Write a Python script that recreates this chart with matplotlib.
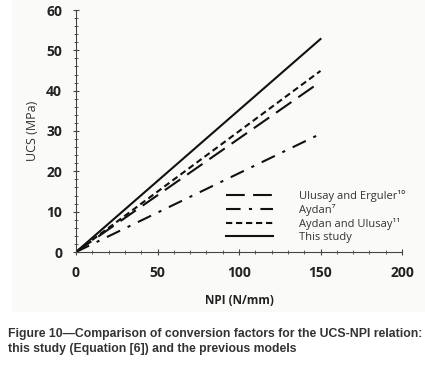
import matplotlib.pyplot as plt
from matplotlib.patches import Rectangle
from matplotlib.ticker import MultipleLocator

plt.rcParams["font.family"] = ["Open Sans", "DejaVu Sans"]

# NPI range and end values (UCS at NPI = 150)
npi = [0, 150]
ulusay_erguler = [0, 42.2]
aydan = [0, 29.3]
aydan_ulusay = [0, 44.9]
this_study = [0, 52.8]

labels = ["Ulusay and Erguler\u00b9\u2070", "Aydan\u2077",
          "Aydan and Ulusay\u00b9\u00b9", "This study"]

fig = plt.figure(figsize=(4.25, 3.72), dpi=100)
fig.patches.append(Rectangle((12 / 425, 1 - 312 / 372), 1, 312 / 372,
                             transform=fig.transFigure, facecolor="#fafaf8",
                             edgecolor="none", zorder=-10))

ax = fig.add_axes([76 / 425, 1 - 252 / 372, 326 / 425, 242 / 372])
ax.set_facecolor("none")

ax.plot(npi, ulusay_erguler, color="#111111", lw=1.5, dashes=(9, 4), label=labels[0])
ax.plot(npi, aydan, color="#111111", lw=1.5, dashes=(7, 4, 1.5, 4), label=labels[1])
ax.plot(npi, aydan_ulusay, color="#111111", lw=1.5, dashes=(3, 1.8), label=labels[2])
ax.plot(npi, this_study, color="#111111", lw=1.5, label=labels[3])

ax.set_xlim(0, 200)
ax.set_ylim(0, 60)
ax.xaxis.set_major_locator(MultipleLocator(50))
ax.xaxis.set_minor_locator(MultipleLocator(10))
ax.yaxis.set_major_locator(MultipleLocator(10))
ax.yaxis.set_minor_locator(MultipleLocator(2))
for s in ["top", "right"]:
    ax.spines[s].set_visible(False)
for s in ["left", "bottom"]:
    ax.spines[s].set_color("#444444")
ax.tick_params(which="major", length=4, color="#444444", direction="inout", pad=8)
ax.tick_params(which="minor", length=3, color="#444444", direction="inout")
for lab in ax.get_xticklabels() + ax.get_yticklabels():
    lab.set_fontweight("bold")
    lab.set_fontsize(10)
    lab.set_color("#222222")

ax.set_xlabel("NPI (N/mm)", fontsize=8.5, fontweight="bold", color="#222222", labelpad=10)
ax.set_ylabel("UCS (MPa)", fontsize=9, color="#333333", labelpad=5)

leg = ax.legend(loc="upper left", bbox_to_anchor=((226 - 76) / 326, (252 - 190) / 242),
                borderaxespad=0, borderpad=0, frameon=False,
                fontsize=8, handlelength=4.2, handletextpad=2.4, labelspacing=0.18,
                labelcolor="#333333")

cap = dict(fontsize=8.8, fontweight="bold", color="#333333", va="center",
           family="Liberation Sans")
fig.text(8 / 425, 1 - 334 / 372,
         "Figure 10\u2014Comparison of conversion factors for the UCS-NPI relation:", **cap)
fig.text(8 / 425, 1 - 349 / 372,
         "this study (Equation [6]) and the previous models", **cap)

fig.savefig("out.png", dpi=100)
